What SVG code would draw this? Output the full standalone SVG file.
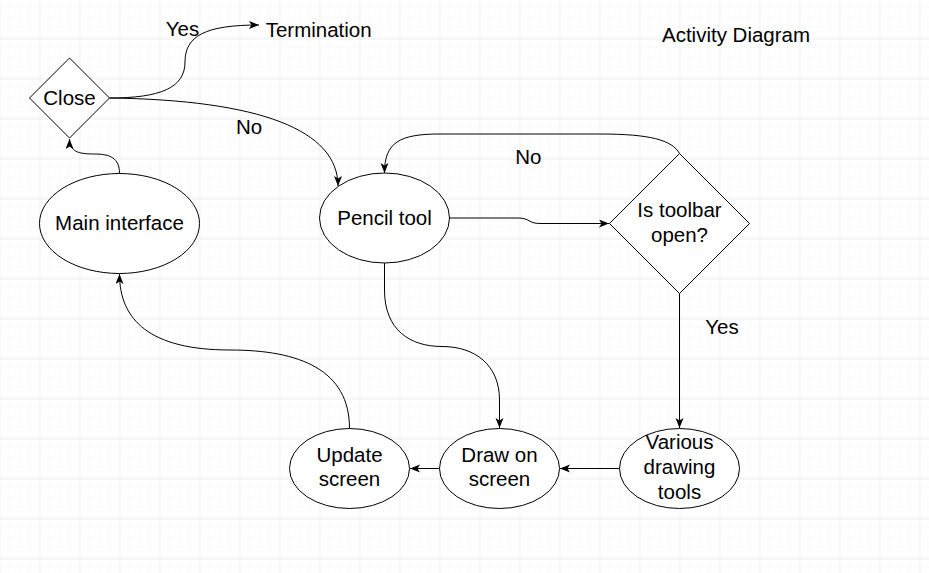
<svg xmlns="http://www.w3.org/2000/svg" width="929" height="573" viewBox="0 0 929 573">
<defs>
<pattern id="minor" width="10" height="10" patternUnits="userSpaceOnUse" x="-0.5" y="-1.5">
<path d="M10 0 L0 0 0 10" fill="none" stroke="#f3f3f3" stroke-width="1"/>
</pattern>
<pattern id="major" width="40" height="40" patternUnits="userSpaceOnUse" x="-0.5" y="-1.5">
<rect width="40" height="40" fill="url(#minor)"/>
<path d="M40 0 L0 0 0 40" fill="none" stroke="#e4e4e4" stroke-width="1"/>
</pattern>
<marker id="arr" markerWidth="12" markerHeight="10" refX="10" refY="4" orient="auto" markerUnits="userSpaceOnUse">
<path d="M0,0 L10,4 L0,8 L2.5,4 Z" fill="#000"/>
</marker>
<style>
.shape{fill:#fff;stroke:#000;stroke-width:1}
.edge{fill:none;stroke:#000;stroke-width:1;marker-end:url(#arr)}
text{font-family:"Liberation Sans",Arial,sans-serif;font-size:20.5px;fill:#000;text-anchor:middle}
</style>
</defs>
<rect width="929" height="573" fill="#fff"/>
<rect width="929" height="573" fill="url(#major)"/>

<g id="connectors">
<path class="edge" d="M119.5,173.5 C119.5,158 110,154 94.5,154 C79,154 69.5,152 69.5,139"/>
<path class="edge" d="M109.5,98 C160,98 185,88 185,62 C185,36 205,25 259,25"/>
<path class="edge" d="M109.5,98 C260,100 338,130 338,186"/>
<path class="edge" d="M449.5,218 L518,218 C530,218 528,223.5 540,223.5 L609,223.5"/>
<path class="edge" d="M679.5,153.5 C672,140 650,134 600,134 L440,134 C400,134 384.5,142 384.5,173"/>
<path class="edge" d="M679.5,293.5 L679.5,428"/>
<path class="edge" d="M619.5,468.5 L560,468.5"/>
<path class="edge" d="M439.5,468.5 L410,468.5"/>
<path class="edge" d="M384.5,263 L384.5,290 C384.5,330 410,346.5 442,346.5 C475,346.5 499.5,365 499.5,400 L499.5,428"/>
<path class="edge" d="M349.5,428.5 C349.5,370 300,350 230,350 C150,350 119.5,320 119.5,274"/>
<text x="182.5" y="36">Yes</text>
<text x="249" y="134.3">No</text>
<text x="528.3" y="164.3">No</text>
<text x="722" y="334.3">Yes</text>
</g>

<g id="termination">
<text x="318.7" y="36.7">Termination</text>
</g>
<g id="title">
<text x="736" y="42">Activity Diagram</text>
</g>

<g id="close">
<path class="shape" d="M69.5,58 L109.5,98 L69.5,138 L29.5,98 Z"/>
<text x="69.5" y="105">Close</text>
</g>

<g id="main-interface">
<ellipse class="shape" cx="119.5" cy="223.5" rx="80" ry="50"/>
<text x="119.5" y="229.8">Main interface</text>
</g>

<g id="pencil-tool">
<ellipse class="shape" cx="384.5" cy="218" rx="65" ry="45"/>
<text x="384.5" y="225">Pencil tool</text>
</g>

<g id="is-toolbar-open">
<path class="shape" d="M679.5,153.5 L749.5,223.5 L679.5,293.5 L609.5,223.5 Z"/>
<text x="679.5" y="216.7">Is toolbar</text>
<text x="679.5" y="241.7">open?</text>
</g>

<g id="various-drawing-tools">
<ellipse class="shape" cx="679.5" cy="468.5" rx="60" ry="40"/>
<text x="679.5" y="449">Various</text>
<text x="679.5" y="474">drawing</text>
<text x="679.5" y="498.5">tools</text>
</g>

<g id="draw-on-screen">
<ellipse class="shape" cx="499.5" cy="468.5" rx="60" ry="40"/>
<text x="499.5" y="461.7">Draw on</text>
<text x="499.5" y="486.2">screen</text>
</g>

<g id="update-screen">
<ellipse class="shape" cx="349.5" cy="468.5" rx="60" ry="40"/>
<text x="349.5" y="461.7">Update</text>
<text x="349.5" y="486.2">screen</text>
</g>
</svg>
